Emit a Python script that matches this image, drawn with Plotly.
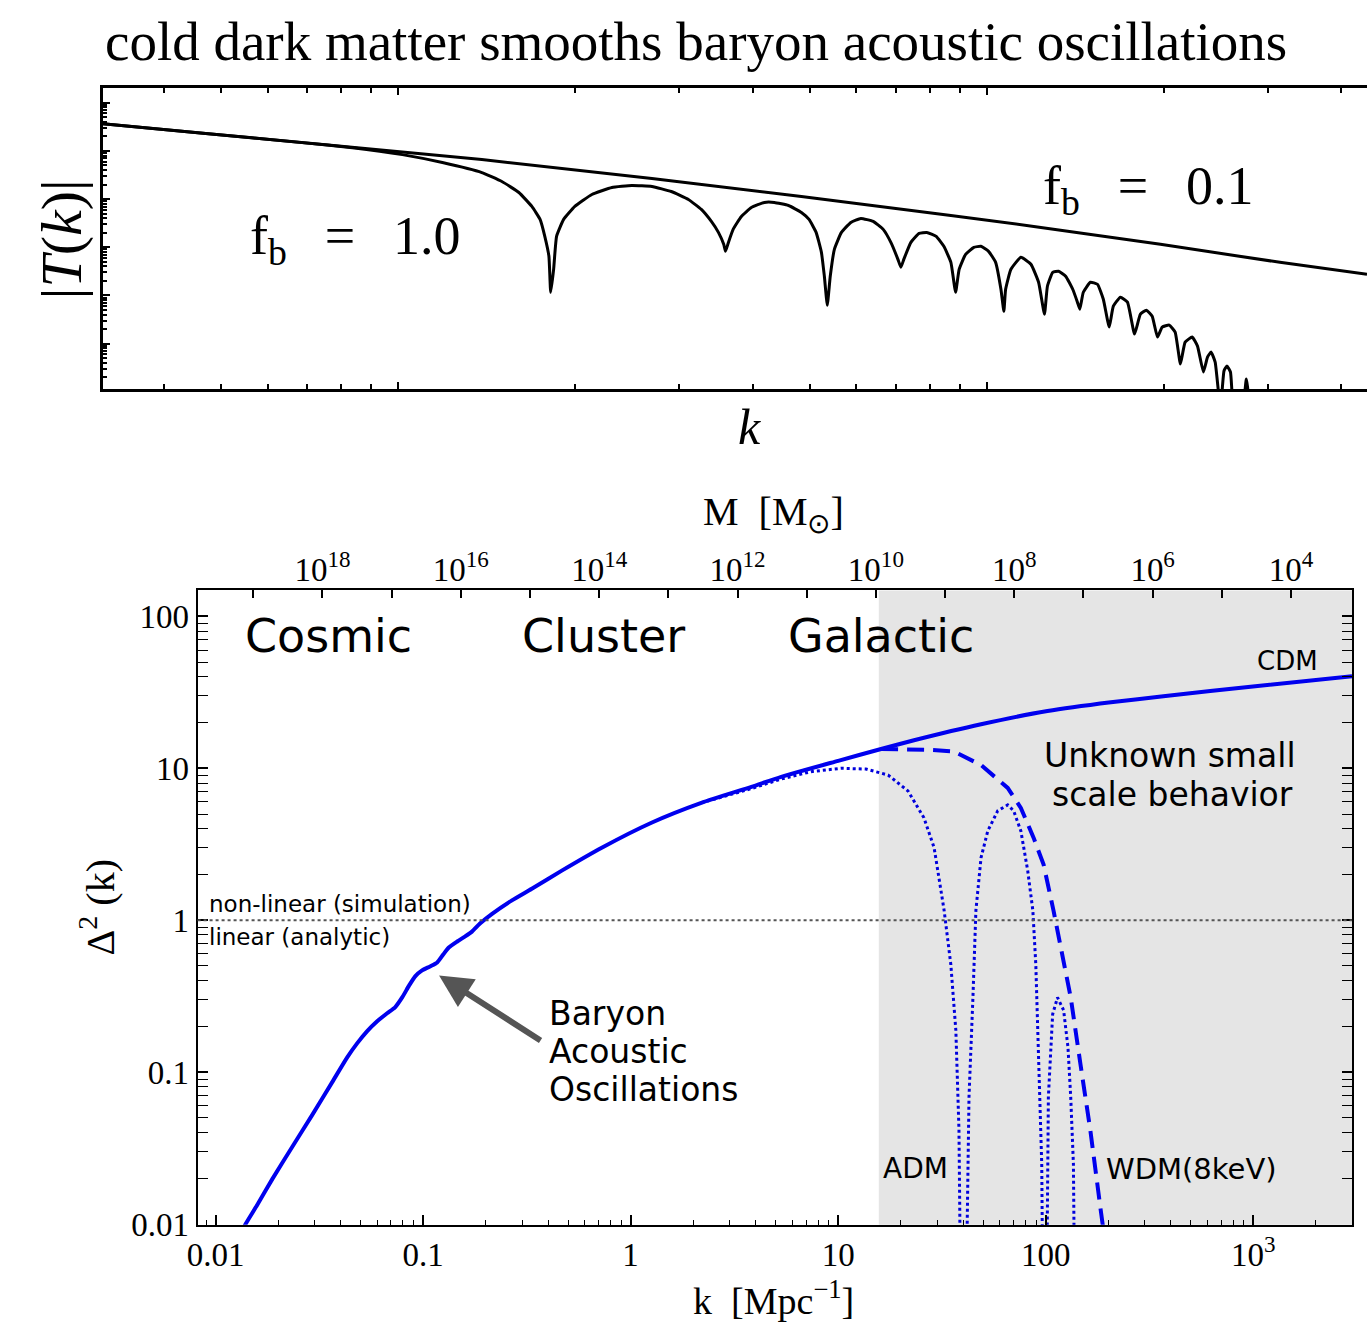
import plotly.graph_objects as go

W, H = 1367, 1324
H_EFF = 1309.5   # effective drawing height observed in the rendered page
X_OFF, W_EFF = 8.0, 1359.0   # effective horizontal placement observed in the rendered page

# ---------------- top panel (schematic, unlabeled log axes) ----------------
# values are log10 of k and |T(k)| in arbitrary units
top_log10_k_fb10 = [-0.502, -0.332, -0.163, -0.078, 0.007, 0.075, 0.142, 0.176, 0.205, 0.227,
                    0.241, 0.249, 0.256, 0.259, 0.264, 0.269, 0.281, 0.300, 0.329, 0.363,
                    0.397, 0.431, 0.464, 0.493, 0.515, 0.532, 0.544, 0.553, 0.556, 0.561,
                    0.569, 0.583, 0.600, 0.622, 0.639, 0.663, 0.685, 0.698, 0.710, 0.719,
                    0.724, 0.729, 0.734, 0.741, 0.753, 0.769, 0.786, 0.807, 0.824, 0.837,
                    0.849, 0.854, 0.859, 0.871, 0.885, 0.898, 0.914, 0.927, 0.939, 0.947,
                    0.953, 0.964, 0.978, 0.990, 1.003, 1.015, 1.024, 1.029, 1.032, 1.041,
                    1.058, 1.075, 1.088, 1.098, 1.103, 1.112, 1.122, 1.134, 1.146, 1.154,
                    1.158, 1.164, 1.176, 1.188, 1.198, 1.208, 1.215, 1.227, 1.239, 1.251,
                    1.261, 1.271, 1.281, 1.290, 1.298, 1.310, 1.320, 1.329, 1.337, 1.349,
                    1.358, 1.368, 1.375, 1.381, 1.388, 1.397, 1.403, 1.408, 1.414, 1.420,
                    1.434, 1.441, 1.447]
top_log10_T_fb10 = [-0.435, -0.631, -0.828, -0.932, -1.077, -1.242, -1.449, -1.636, -1.863, -2.153,
                    -2.422, -2.774, -3.188, -3.934, -3.458, -2.774, -2.422, -2.153, -1.905, -1.760,
                    -1.718, -1.739, -1.843, -2.008, -2.215, -2.464, -2.692, -2.940, -3.085, -2.899,
                    -2.629, -2.360, -2.174, -2.070, -2.070, -2.133, -2.277, -2.422, -2.692, -3.106,
                    -3.602, -4.203, -3.602, -3.043, -2.692, -2.484, -2.402, -2.464, -2.629, -2.899,
                    -3.251, -3.416, -3.251, -2.899, -2.712, -2.692, -2.774, -2.981, -3.313, -3.934,
                    -3.458, -3.147, -3.002, -2.981, -3.085, -3.313, -3.872, -4.327, -3.872, -3.458,
                    -3.209, -3.354, -3.727, -4.389, -3.810, -3.520, -3.499, -3.602, -3.872, -4.141,
                    -4.286, -3.934, -3.727, -3.768, -4.079, -4.658, -4.224, -4.037, -4.141, -4.803,
                    -4.389, -4.306, -4.431, -4.865, -4.658, -4.617, -4.762, -5.424, -4.969, -4.865,
                    -5.052, -5.590, -5.280, -5.176, -5.383, -6.356, -5.569, -5.466, -5.590, -6.356,
                    -6.356, -5.735, -6.356]
top_log10_k_fb01 = [-0.502, -0.163, 0.142, 0.431, 0.685, 0.939, 1.092, 1.295, 1.498, 1.646]
top_log10_T_fb01 = [-0.435, -0.828, -1.180, -1.573, -1.946, -2.340, -2.588, -2.940, -3.313, -3.561]
top_log10_k_range = [-0.502, 1.646]
top_log10_T_range = [-5.942, 0.311]

# ---------------- bottom panel: dimensionless power spectrum ----------------
cdm_k = [0.0132, 0.0139, 0.0159, 0.0188, 0.0234, 0.0292, 0.0365, 0.0431, 0.0482, 0.0538,
         0.0601, 0.0671, 0.0733, 0.0793, 0.0857, 0.0916, 0.0989, 0.108, 0.117, 0.125,
         0.133, 0.146, 0.159, 0.172, 0.188, 0.215, 0.268, 0.334, 0.466, 0.726,
         1.26, 2.19, 3.82, 5.32, 10.0, 16.1, 23.2, 48.8, 102.0, 206.0,
         369.0, 1023.0, 2992.0]
cdm_D2 = [0.00863, 0.00989, 0.01337, 0.0198, 0.0321, 0.0521, 0.0859, 0.125, 0.155, 0.186,
          0.216, 0.244, 0.267, 0.310, 0.372, 0.427, 0.467, 0.496, 0.527, 0.594,
          0.661, 0.724, 0.780, 0.841, 0.950, 1.10, 1.35, 1.61, 2.12, 3.00,
          4.38, 5.92, 7.55, 8.79, 11.2, 13.4, 15.3, 19.5, 23.8, 27.2,
          29.8, 34.7, 40.4]

wdm_k = [16.1, 21.7, 28.0, 36.1, 48.8, 65.6, 75.9, 87.5, 97.7, 109.0,
         122.0, 132.0, 147.0, 164.0, 184.0, 190.0]
wdm_D2 = [13.4, 13.3, 13.2, 12.9, 10.5, 7.43, 5.48, 3.48, 2.32, 1.16,
          0.511, 0.310, 0.113, 0.0416, 0.0124, 0.0090]

adm_k = [2.19, 3.82, 5.32, 7.41, 10.3, 13.6, 17.4, 21.7, 25.9, 29.0,
         32.4, 34.9, 36.9, 38.2, 39.9, 42.7, 44.6, 46.1, 48.8, 52.6,
         58.7, 65.6, 70.1, 75.9, 81.9, 86.7, 89.6, 92.5, 95.7, 98.9,
         103.0, 108.0, 114.0, 122.0, 128.0, 132.0, 136.0, 141.0]
adm_D2 = [5.92, 7.35, 8.50, 9.50, 10.0, 9.89, 9.03, 7.09, 4.72, 3.00,
          1.16, 0.511, 0.188, 0.0416, 0.0001, 0.0684, 0.310, 1.16, 2.58, 3.87,
          5.24, 5.74, 5.24, 3.87, 2.12, 1.16, 0.511, 0.113, 0.0248, 0.0001,
          0.0684, 0.240, 0.310, 0.255, 0.146, 0.0684, 0.0248, 0.0001]

k_tick_vals = [0.01, 0.1, 1, 10, 100, 1000]
k_tick_text = ["0.01", "0.1", "1", "10", "100", "10<sup>3</sup>"]
d2_tick_vals = [0.01, 0.1, 1, 10, 100]
d2_tick_text = ["0.01", "0.1", "1", "10", "100"]
m_label_exps = [18, 16, 14, 12, 10, 8, 6, 4]
galactic_k_min = 15.7   # start of the "unknown small scale" shaded region
k_range_log = [-2.0865, 3.476]
d2_range_log = [-2.005, 2.171]
m_range_log = [19.805, 3.118]   # M axis runs opposite to k

SERIF = "Liberation Serif"
SANS = "DejaVu Sans"
EN = "\u2002"
THIN = "\u2009"


def px(x):
    return min(1.0, max(0.0, (x - X_OFF) / W_EFF))


def py(y):
    return 1 - y / H_EFF


fig = go.Figure()

# top panel curves
fig.add_trace(go.Scatter(x=[10.0 ** v for v in top_log10_k_fb01], y=[10.0 ** v for v in top_log10_T_fb01],
                         mode="lines", line=dict(color="black", width=3), xaxis="x", yaxis="y",
                         showlegend=False, hoverinfo="skip"))
fig.add_trace(go.Scatter(x=[10.0 ** v for v in top_log10_k_fb10], y=[10.0 ** v for v in top_log10_T_fb10],
                         mode="lines", line=dict(color="black", width=3, shape="spline", smoothing=0.4),
                         xaxis="x", yaxis="y", showlegend=False, hoverinfo="skip"))

# bottom panel curves
fig.add_trace(go.Scatter(x=adm_k, y=adm_D2, mode="lines",
                         line=dict(color="#0000dd", width=3, dash="dot"),
                         xaxis="x2", yaxis="y2", showlegend=False, hoverinfo="skip"))
fig.add_trace(go.Scatter(x=wdm_k, y=wdm_D2, mode="lines",
                         line=dict(color="#0000ee", width=4, dash="17px,9px"),
                         xaxis="x2", yaxis="y2", showlegend=False, hoverinfo="skip"))
fig.add_trace(go.Scatter(x=cdm_k, y=cdm_D2, mode="lines",
                         line=dict(color="#0000ee", width=4, shape="spline", smoothing=0.6),
                         xaxis="x2", yaxis="y2", showlegend=False, hoverinfo="skip"))
# dummy (invisible) trace so that the mass axis is drawn
fig.add_trace(go.Scatter(x=[10.0 ** m_range_log[0], 10.0 ** m_range_log[1]], y=[None, None],
                         mode="lines", xaxis="x3", yaxis="y2", showlegend=False, hoverinfo="skip"))

minor_k = [m * 10.0 ** e for e in range(-3, 4) for m in range(2, 10)]
minor_d2 = [m * 10.0 ** e for e in range(-3, 3) for m in range(2, 10)]
m_all_vals = [10.0 ** e for e in range(3, 21)]
m_all_text = [("10<sup>%d</sup>" % e) if e in m_label_exps else "" for e in range(3, 21)]

tickfont = dict(family=SERIF, size=33, color="black")

fig.update_layout(
    width=W, height=H, margin=dict(l=0, r=0, t=0, b=0),
    paper_bgcolor="white", plot_bgcolor="white",
    xaxis=dict(domain=[px(100), 1.0], anchor="y", type="log", range=top_log10_k_range,
               showline=True, linecolor="black", linewidth=3, mirror="allticks",
               ticks="inside", ticklen=7, tickwidth=2, tickcolor="black", dtick=1,
               showticklabels=False, showgrid=False, zeroline=False,
               minor=dict(ticks="inside", ticklen=5, tickwidth=1.5, tickcolor="black", showgrid=False)),
    yaxis=dict(domain=[py(390), py(88)], anchor="x", type="log", range=top_log10_T_range,
               showline=True, linecolor="black", linewidth=3, mirror=False,
               ticks="inside", ticklen=7, tickwidth=2, tickcolor="black", dtick=1,
               showticklabels=False, showgrid=False, zeroline=False,
               minor=dict(ticks="inside", ticklen=4, tickwidth=1.5, tickcolor="black", showgrid=False)),
    xaxis2=dict(domain=[px(195), px(1352)], anchor="y2", type="log", range=k_range_log,
                showline=True, linecolor="black", linewidth=2, mirror=True,
                tickmode="array", tickvals=k_tick_vals, ticktext=k_tick_text,
                ticks="inside", ticklen=10, tickwidth=1.5, tickcolor="black",
                tickfont=tickfont, showgrid=False, zeroline=False,
                minor=dict(tickmode="array", tickvals=minor_k, ticks="inside", ticklen=5,
                           tickwidth=1.2, tickcolor="black", showgrid=False)),
    yaxis2=dict(domain=[py(1228), py(592)], anchor="x2", type="log", range=d2_range_log,
                showline=True, linecolor="black", linewidth=2, mirror="allticks",
                tickmode="array", tickvals=d2_tick_vals, ticktext=d2_tick_text,
                ticks="inside", ticklen=10, tickwidth=1.5, tickcolor="black",
                tickfont=tickfont, showgrid=False, zeroline=False,
                minor=dict(tickmode="array", tickvals=minor_d2, ticks="inside", ticklen=5,
                           tickwidth=1.2, tickcolor="black", showgrid=False)),
    xaxis3=dict(overlaying="x2", anchor="y2", side="top", type="log", range=m_range_log,
                showline=False, tickmode="array", tickvals=m_all_vals, ticktext=m_all_text,
                ticks="inside", ticklen=8, tickwidth=1.5, tickcolor="black", ticklabelstandoff=2,
                tickfont=tickfont, showgrid=False, zeroline=False),
)

fig.add_shape(type="rect", xref="x2", yref="y2 domain", x0=galactic_k_min, x1=10.0 ** k_range_log[1],
              y0=0, y1=1, fillcolor="#e5e5e5", line=dict(width=0), layer="below")
fig.add_shape(type="line", xref="x2 domain", yref="y2", x0=0, x1=1, y0=1, y1=1,
              line=dict(color="#555555", width=2, dash="dot"))

ann = []


def text(x, y, s, size, family=SANS, xanchor="center", angle=0, color="black"):
    ann.append(dict(x=px(x), y=py(y), xref="paper", yref="paper", text=s, showarrow=False,
                    xanchor=xanchor, yanchor="middle", textangle=angle,
                    font=dict(family=family, size=size, color=color)))


text(695, 42, "cold dark matter smooths baryon acoustic oscillations", 55, SERIF)
text(353, 240, "f<sub>b</sub>" + EN + THIN + "=" + EN + THIN + "1.0", 54, SERIF)
text(1148, 190, "f<sub>b</sub>" + EN + THIN + "=" + EN + THIN + "0.1", 54, SERIF)
text(58, 240, "|<i>T</i>(<i>k</i>)|", 58, SERIF, angle=-90)
text(748, 428, "<i>k</i>", 50, SERIF)

text(772, 515, "M" + EN + "[M<sub>⊙</sub>]", 40, SERIF)
text(772, 1301, "k" + EN + "[Mpc<sup>−1</sup>]", 38, SERIF)
text(95, 910, "Δ<sup>2</sup> (k)", 40, SERIF, angle=-90)

text(326, 638, "Cosmic", 46)
text(602, 638, "Cluster", 46)
text(880, 638, "Galactic", 46)
text(1287, 663, "CDM", 26)
text(1170, 758, "Unknown small", 33)
text(1172, 797, "scale behavior", 33)
text(204, 906, "non-linear (simulation)", 23, xanchor="left")
text(204, 940, "linear (analytic)", 23, xanchor="left")
text(545, 1016, "Baryon", 33, xanchor="left")
text(545, 1054, "Acoustic", 33, xanchor="left")
text(545, 1092, "Oscillations", 33, xanchor="left")
text(915, 1172, "ADM", 28)
text(1191, 1172, "WDM(8keV)", 29)

# arrow pointing at the BAO wiggles
ann.append(dict(x=px(437), y=py(978), xref="paper", yref="paper", ax=103, ay=66,
                axref="pixel", ayref="pixel", showarrow=True, arrowhead=2, arrowsize=1.1,
                arrowwidth=6, arrowcolor="#555555", standoff=0, text=""))

fig.update_layout(annotations=ann)
fig.write_html("out.html")
